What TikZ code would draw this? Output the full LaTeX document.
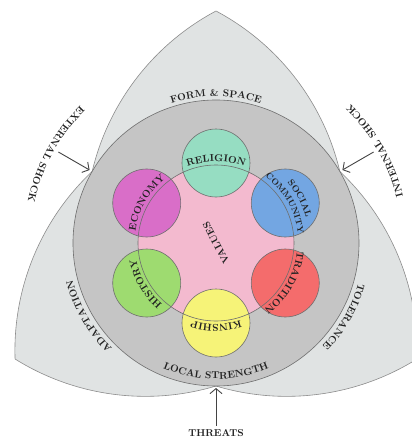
\documentclass[tikz,border=0pt]{standalone}
\usepackage{fontspec}
\usetikzlibrary{arrows.meta,decorations.text}
\definecolor{shell}{HTML}{E0E3E3}
\definecolor{shellline}{HTML}{8C8C8C}
\definecolor{ringgray}{HTML}{C5C5C5}
\definecolor{ringline}{HTML}{6E6E6E}
\definecolor{valpink}{HTML}{F3BACF}
\definecolor{relgreen}{HTML}{96DDC2}
\definecolor{ecomag}{HTML}{D96EC8}
\definecolor{socblue}{HTML}{73A6E2}
\definecolor{tradred}{HTML}{F46C6C}
\definecolor{kinyellow}{HTML}{F6F378}
\definecolor{hisgreen}{HTML}{9EDB70}
\definecolor{ink}{HTML}{222222}
\newcommand{\lbl}{\fontsize{10}{12}\selectfont\bfseries}
\newcommand{\lblsoc}{\fontsize{9}{11}\selectfont\bfseries}
\newcommand{\lblsmall}{\fontsize{8.5}{10}\selectfont\bfseries}
\tikzset{
  lobe/.style={fill=shell, draw=shellline, line width=0.6pt},
  ring/.style={fill=ringgray, draw=ringline, line width=0.6pt},
  petal/.style={circle, draw=ringline, line width=0.6pt, minimum size=68pt, inner sep=0pt},
  curved/.style={decorate, decoration={text along path, text align=center, text color=ink}},
  shock/.style={draw=ink!85, line width=0.9pt, -{Straight Barb[length=5pt,width=12pt]}}
}
\begin{document}
\begin{tikzpicture}[x=1pt,y=1pt]
\useasboundingbox (-216,-197) rectangle (196,243);
\clip (-216,-197) rectangle (196,243);
% outer lobes
\foreach \r in {0,120,240}
  \filldraw[lobe, rotate=\r] (150:143) arc[start angle=166.68, end angle=118.01, radius=246]
    arc[start angle=61.99, end angle=13.32, radius=246] -- cycle;
\filldraw[ring] (0,0) circle (143);
\fill[valpink] (0,0) circle (78);
% the six circles
\node[petal, fill=relgreen] (religion) at (90:80) {};
\node[petal, fill=socblue] (social) at (30:80) {};
\node[petal, fill=tradred] (tradition) at (-30:80) {};
\node[petal, fill=kinyellow] (kinship) at (-90:80) {};
\node[petal, fill=hisgreen] (history) at (210:80) {};
\node[petal, fill=ecomag] (economy) at (150:80) {};
\draw[ringline, line width=0.6pt] (0,0) circle (78);
\node[font=\lbl, text=ink, rotate=118] (values) at (0,0) {VALUES};
% labels on the inner ring
\path[curved, decoration={text={|\lbl|RELIGION}}] (140:81.5) arc[start angle=140, end angle=40, radius=81.5];
\path[curved, decoration={text={|\lbl|ECONOMY}}] (200:81.5) arc[start angle=200, end angle=100, radius=81.5];
\path[curved, decoration={text={|\lbl|HISTORY}}] (260:81.5) arc[start angle=260, end angle=160, radius=81.5];
\path[curved, decoration={text={|\lbl|KINSHIP}}] (320:81.5) arc[start angle=320, end angle=220, radius=81.5];
\path[curved, decoration={text={|\lbl|TRADITION}}] (20:81.5) arc[start angle=20, end angle=-80, radius=81.5];
\path[curved, decoration={text={|\lblsoc|SOCIAL}}] (78:93.5) arc[start angle=78, end angle=-22, radius=93.5];
\path[curved, decoration={text={|\lblsmall|COMMUNITY}}] (80:82.5) arc[start angle=80, end angle=-20, radius=82.5];
% labels on the outer rings
\path[curved, decoration={text={|\lbl|FORM {\&} SPACE}}] (125:146.5) arc[start angle=125, end angle=55, radius=146.5];
\path[curved, decoration={text={|\lbl|LOCAL STRENGTH}}] (225:136) arc[start angle=225, end angle=315, radius=136];
\path[curved, decoration={text={|\lbl|ADAPTATION}}] (245:148) arc[start angle=245, end angle=175, radius=148];
\path[curved, decoration={text={|\lbl|TOLERANCE}}] (5:148) arc[start angle=5, end angle=-65, radius=148];
\path[curved, decoration={text={|\lbl|EXTERNAL SHOCK}}] (115:193) arc[start angle=115, end angle=187, radius=193];
\path[curved, decoration={text={|\lbl|INTERNAL SHOCK}}] (-6:193) arc[start angle=-6, end angle=66, radius=193];
% shocks and threats
\coordinate (extTail) at (150:182);
\coordinate (extTip) at (150:146);
\coordinate (intTail) at (30:182);
\coordinate (intTip) at (30:146);
\node[font=\lbl, text=ink] (threats) at (0,-190) {THREATS};
\coordinate (threatTip) at (0,-145);
\draw[shock] (extTail) -- (extTip);
\draw[shock] (intTail) -- (intTip);
\draw[shock] (threats.north) -- (threatTip);
\end{tikzpicture}
\end{document}
